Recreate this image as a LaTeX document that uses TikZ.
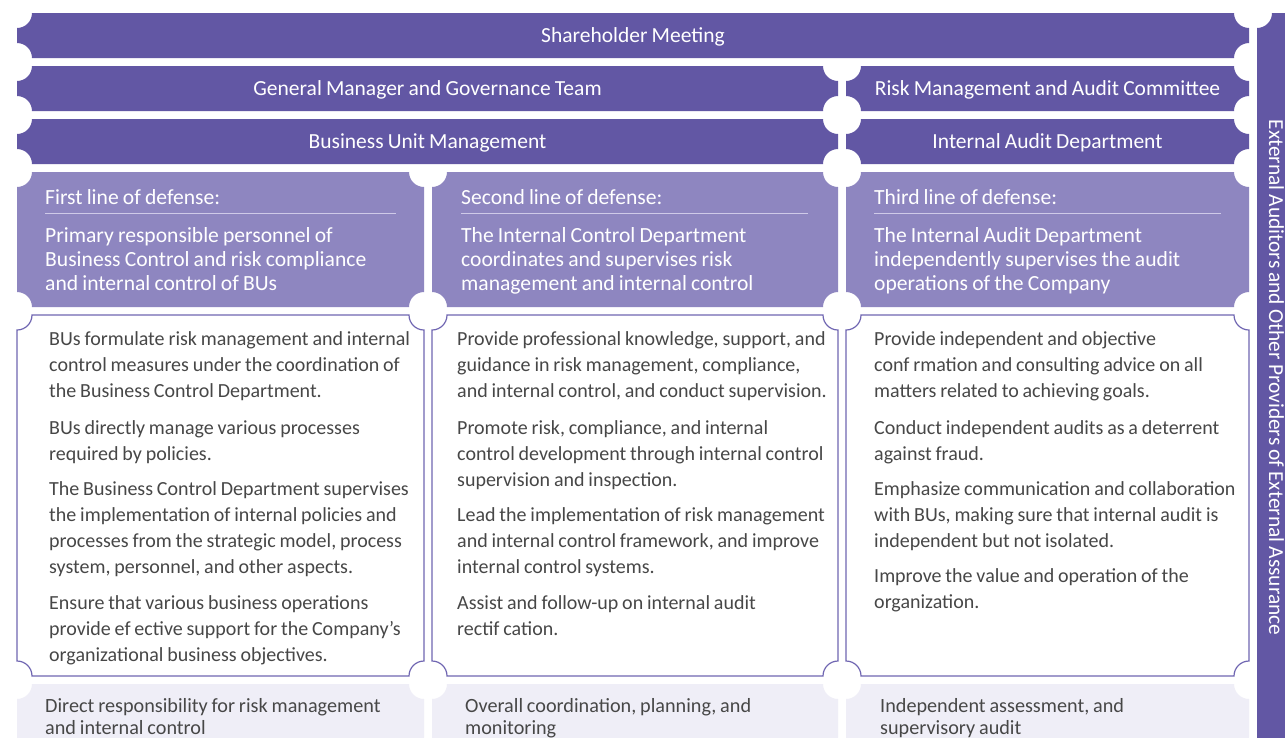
\documentclass[tikz,border=0pt]{standalone}
\usepackage{fontspec}
\setmainfont{Carlito}[WordSpace=0.85]
\definecolor{barpurple}{HTML}{6257A4}
\definecolor{headpurple}{HTML}{8E86C0}
\definecolor{lavender}{HTML}{EFEEF7}
\definecolor{outline}{HTML}{7066B2}
\definecolor{textgray}{HTML}{474747}
\definecolor{rulecol}{HTML}{CFCAE8}
\newcommand\nbox[5]{%
 \path[#5] ({#1+15},{-#2}) -- ({#3-15},{-#2}) arc[start angle=180,end angle=270,radius=15]
  -- ({#3},{-#4+15}) arc[start angle=90,end angle=180,radius=15]
  -- ({#1+15},{-#4}) arc[start angle=0,end angle=90,radius=15]
  -- ({#1},{-#2-15}) arc[start angle=270,end angle=360,radius=15] -- cycle;}
\newcommand\para[6]{%
 \foreach \t [count=\i from 0] in {#6} {\node[#4] (#1-\i) at (#2,{-#3-#5*\i}) {\t};}}
\tikzset{
 barbox/.style={fill=barpurple},
 headbox/.style={fill=headpurple},
 whitebox/.style={fill=white,draw=outline,line width=1.2pt},
 lowbox/.style={fill=lavender},
 bartext/.style={anchor=base,inner sep=0,text=white,font=\fontsize{21.5}{25}\selectfont},
 headtext/.style={anchor=base west,inner sep=0,text=white,font=\fontsize{21.6}{25}\selectfont},
 bodytext/.style={anchor=base west,inner sep=0,text=textgray,font=\fontsize{20}{26}\selectfont},
 lowtext/.style={anchor=base west,inner sep=0,text=textgray,font=\fontsize{20.2}{24}\selectfont},
 sidetext/.style={anchor=base,inner sep=0,rotate=-90,text=white,font=\fontsize{21.4}{25}\selectfont},
 hrule/.style={draw=rulecol,line width=1.3pt}
}
\begin{document}
\begin{tikzpicture}[x=1pt,y=1pt]
\useasboundingbox (0,0) rectangle (1285,-737);
\clip (0,0) rectangle (1285,-737);
\fill[white] (0,0) rectangle (1285,-737);
% bars
\nbox{17}{13}{1249}{58}{barbox}
\nbox{17}{66}{838}{111}{barbox}
\nbox{846}{66}{1249}{111}{barbox}
\nbox{17}{119}{838}{164}{barbox}
\nbox{846}{119}{1249}{164}{barbox}
% right bar
\nbox{1257}{13}{1310}{760}{barbox}
% headers
\nbox{17}{172}{424}{307}{headbox}
\nbox{432}{172}{838}{307}{headbox}
\nbox{846}{172}{1249}{307}{headbox}
% white boxes
\nbox{17}{315}{424}{676}{whitebox}
\nbox{432}{315}{838}{676}{whitebox}
\nbox{846}{315}{1249}{676}{whitebox}
% bottom boxes
\nbox{17}{684}{424}{760}{lowbox}
\nbox{432}{684}{838}{760}{lowbox}
\nbox{846}{684}{1249}{760}{lowbox}
% bar texts
\node[bartext] (sm) at (633,-42.5) {Shareholder Meeting};
\node[bartext] (gm) at (427.5,-95.5) {General Manager and Governance Team};
\node[bartext] (rm) at (1047.5,-95.5) {Risk Management and Audit Committee};
\node[bartext] (bu) at (427.5,-148.5) {Business Unit Management};
\node[bartext] (ia) at (1047.5,-148.5) {Internal Audit Department};
% header texts
\node[headtext] (h1) at (45,-204.5) {First line of defense:};
\node[headtext] (h2) at (461,-204.5) {Second line of defense:};
\node[headtext] (h3) at (874,-204.5) {Third line of defense:};
\draw[hrule] (45,-213.5) -- (396,-213.5);
\draw[hrule] (461,-213.5) -- (808,-213.5);
\draw[hrule] (874,-213.5) -- (1221,-213.5);
\para{ha}{45}{242}{headtext}{24.3}{{Primary responsible personnel of},{Business Control and risk compliance},{and internal control of BUs}}
\para{hb}{461}{242}{headtext}{24.3}{{The Internal Control Department},{coordinates and supervises risk},{management and internal control}}
\para{hc}{874}{242}{headtext}{24.3}{{The Internal Audit Department},{independently supervises the audit},{operations of the Company}}
% column 1 body
\para{a1}{49}{345.5}{bodytext}{26}{{BUs formulate risk management and internal},{control measures under the coordination of},{the Business Control Department.}}
\para{a2}{49}{434.5}{bodytext}{26}{{BUs directly manage various processes},{required by policies.}}
\para{a3}{49}{495.5}{bodytext}{26}{{The Business Control Department supervises},{the implementation of internal policies and},{processes from the strategic model, process},{system, personnel, and other aspects.}}
\para{a4}{49}{609.5}{bodytext}{26}{{Ensure that various business operations},{provide ef ective support for the Company's},{organizational business objectives.}}
% column 2 body
\para{b1}{457}{345.5}{bodytext}{26}{{Provide professional knowledge, support, and},{guidance in risk management, compliance,},{and internal control, and conduct supervision.}}
\para{b2}{457}{434.5}{bodytext}{26}{{Promote risk, compliance, and internal},{control development through internal control},{supervision and inspection.}}
\para{b3}{457}{521.5}{bodytext}{26}{{Lead the implementation of risk management},{and internal control framework, and improve},{internal control systems.}}
\para{b4}{457}{609.5}{bodytext}{26}{{Assist and follow-up on internal audit},{rectif cation.}}
% column 3 body
\para{c1}{874}{345.5}{bodytext}{26}{{Provide independent and objective},{conf rmation and consulting advice on all},{matters related to achieving goals.}}
\para{c2}{874}{434.5}{bodytext}{26}{{Conduct independent audits as a deterrent},{against fraud.}}
\para{c3}{874}{495.5}{bodytext}{26}{{Emphasize communication and collaboration},{with BUs, making sure that internal audit is},{independent but not isolated.}}
\para{c4}{874}{582}{bodytext}{26}{{Improve the value and operation of the},{organization.}}
% bottom texts
\para{l1}{45}{712}{lowtext}{22}{{Direct responsibility for risk management},{and internal control}}
\para{l2}{465}{712}{lowtext}{22}{{Overall coordination, planning, and},{monitoring}}
\para{l3}{880}{712}{lowtext}{22}{{Independent assessment, and},{supervisory audit}}
% side text
\node[sidetext] (ext) at (1269,-377.5) {External Auditors and Other Providers of External Assurance};
\end{tikzpicture}
\end{document}
